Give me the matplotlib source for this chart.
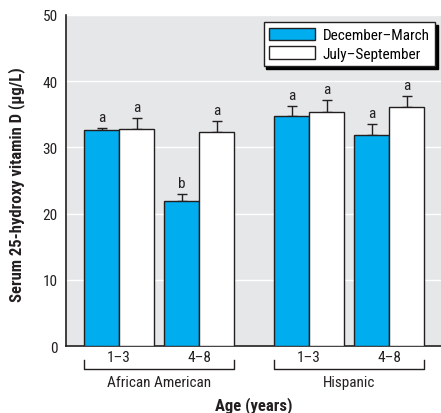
import matplotlib
matplotlib.use('Agg')
import matplotlib.pyplot as plt
import numpy as np

groups = ["African American", "Hispanic"]
ages = ["1\u20133", "4\u20138", "1\u20133", "4\u20138"]
series = ["December\u2013March", "July\u2013September"]
winter = [32.6, 21.9, 34.8, 31.8]
winter_err = [0.4, 1.0, 1.5, 1.8]
summer = [32.8, 32.4, 35.4, 36.1]
summer_err = [1.6, 1.6, 1.8, 1.7]
winter_sig = ["a", "b", "a", "a"]
summer_sig = ["a", "a", "a", "a"]

plt.rcParams['font.family'] = ['Roboto Condensed', 'DejaVu Sans']

BLUE = '#00aeef'
EDGE = '#231f20'
BG = '#e6e7e8'

fig = plt.figure(figsize=(4.41, 4.14), dpi=100)
ax = fig.add_axes([0.1497, 0.1618, 0.8503, 0.7996])
ax.set_facecolor(BG)

w = 0.35
centers = np.array([0.0, 0.8, 1.9, 2.7])
xw = centers - w / 2
xs = centers + w / 2

ekw = dict(ecolor=EDGE, elinewidth=1, capsize=3.5, capthick=1)
ax.bar(xw, winter, w, color=BLUE, edgecolor=EDGE, linewidth=1, zorder=3, label=series[0])
ax.errorbar(xw, winter, yerr=[np.zeros(4), winter_err], fmt='none', zorder=2, **ekw)
ax.bar(xs, summer, w, color='white', edgecolor=EDGE, linewidth=1, zorder=3, label=series[1])
ax.errorbar(xs, summer, yerr=[np.zeros(4), summer_err], fmt='none', zorder=2, **ekw)

for x, v, e, s in zip(xw, winter, winter_err, winter_sig):
    ax.text(x, v + e + 0.6, s, ha='center', va='bottom', fontsize=11, color=EDGE)
for x, v, e, s in zip(xs, summer, summer_err, summer_sig):
    ax.text(x, v + e + 0.6, s, ha='center', va='bottom', fontsize=11, color=EDGE)

ax.set_ylim(0, 50)
ax.set_xlim(-0.53, 3.22)
ax.set_yticks([0, 10, 20, 30, 40, 50])
ax.yaxis.grid(True, color='white', linewidth=1)
ax.set_axisbelow(True)
ax.tick_params(axis='y', length=0, labelsize=11, pad=6, colors=EDGE)
ax.set_xticks(centers)
ax.set_xticklabels(ages)
ax.tick_params(axis='x', length=0, labelsize=11, pad=3, colors=EDGE)
for side in ['top', 'right']:
    ax.spines[side].set_visible(False)
for side in ['left', 'bottom']:
    ax.spines[side].set_color(EDGE)
    ax.spines[side].set_linewidth(1.2)

# group brackets
trans = ax.get_xaxis_transform()
for i, g in enumerate(groups):
    x0 = xw[2 * i] - w / 2
    x1 = xs[2 * i + 1] + w / 2
    yb, yt = -0.07, -0.043
    ax.plot([x0, x0, x1, x1], [yt, yb, yb, yt], color=EDGE, linewidth=1,
            transform=trans, clip_on=False)
    ax.text((x0 + x1) / 2, -0.11, g, ha='center', va='center', fontsize=11,
            color=EDGE, transform=trans)

ax.set_xlabel("Age (years)", fontsize=12, fontweight='bold', labelpad=23, color=EDGE)
ax.set_ylabel("Serum 25-hydroxy vitamin D (\u03bcg/L)", fontsize=12, fontweight='bold',
              labelpad=9, color=EDGE)
ax.yaxis.set_label_coords(-0.11, 0.49)

leg = ax.legend(loc='upper right', bbox_to_anchor=(0.986, 0.944),
                bbox_transform=fig.transFigure, borderaxespad=0, fancybox=False,
                framealpha=1, edgecolor=EDGE, fontsize=11, handlelength=3.0,
                handleheight=0.9, borderpad=0.35, labelspacing=0.25,
                handletextpad=0.5,
                shadow={'color': 'black', 'alpha': 1, 'ox': 2, 'oy': -2})
leg.get_frame().set_linewidth(1)

fig.savefig('out.png', dpi=100)
